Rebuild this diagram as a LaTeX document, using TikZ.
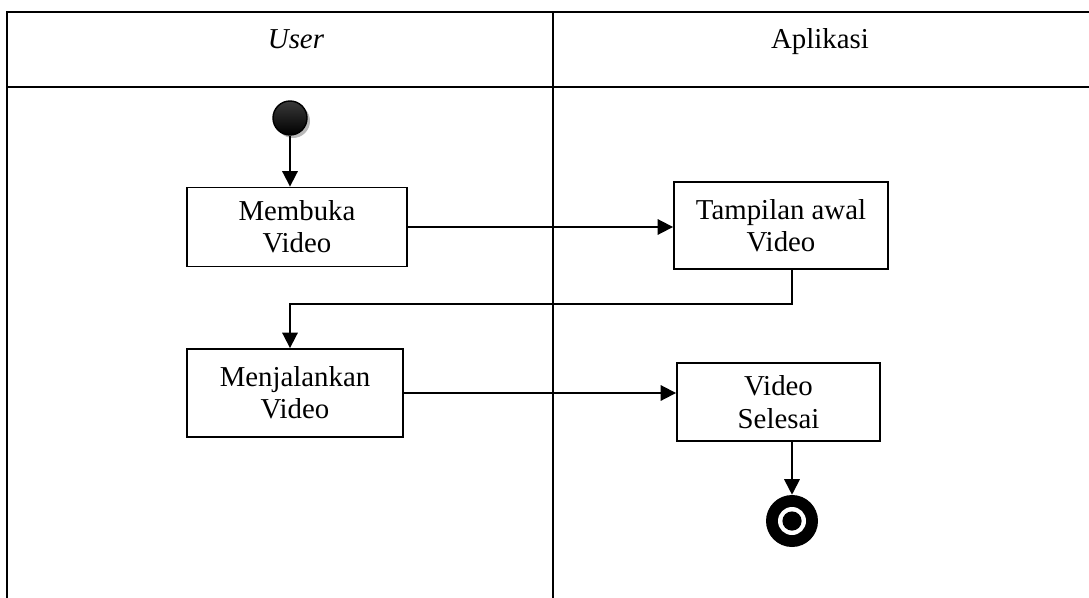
\documentclass[tikz,border=0pt]{standalone}
\usepackage{fontspec}
\setmainfont{Liberation Serif}
\usetikzlibrary{arrows.meta, positioning}

\begin{document}
\begin{tikzpicture}[
  x=0.025cm, y=-0.025cm,
  act/.style={rectangle, draw=black, line width=1.3pt, fill=white, align=center,
              font=\fontsize{20.5}{23}\selectfont, inner sep=0pt},
  title/.style={font=\fontsize{20.5}{23}\selectfont, anchor=base},
  lane/.style={line width=1.6pt, black},
  flow/.style={-{Triangle[length=11pt, width=11pt]}, line width=1.3pt},
  initial/.style={circle, draw=black, line width=1pt, minimum size=0.85cm, inner sep=0pt,
                  top color=gray!45!black, middle color=gray!75, bottom color=black},
  final/.style={circle, fill=black, minimum size=1.3cm, inner sep=0pt}
]
\useasboundingbox (0,0) rectangle (1089,597);
% swimlanes
\begin{scope}
\clip (0,0) rectangle (1089,597);
\draw[lane] (7,12) rectangle (1091,600);
\draw[lane] (7,87) -- (1091,87);
\draw[lane] (553,12) -- (553,600);
\end{scope}
\node[title] (user) at (296,49) {\textit{User}};
\node[title] (app) at (820,49) {Aplikasi};

% start / end
\fill[gray!55] (293,121) circle (0.425cm);
\node[initial] (start) at (290,118) {};
\node[final] (stop) at (792,521) {};
\fill[white] (stop) circle (0.35cm);
\fill[black] (stop) circle (0.24cm);

% activities
\node[act, minimum width=5.5cm, minimum height=1.975cm] (membuka) at (297,227) {Membuka\\Video};
\node[act, minimum width=5.35cm, minimum height=2.175cm] (tampilan) at (781,225.5) {Tampilan awal\\Video};
\node[act, minimum width=5.4cm, minimum height=2.2cm] (menjalankan) at (295,393) {Menjalankan\\Video};
\node[act, minimum width=5.075cm, minimum height=1.95cm] (selesai) at (778.5,402) {Video\\Selesai};

\coordinate (turn) at (290,304);

\draw[flow] (start) -- (start |- membuka.north);
\draw[flow] (membuka.east) -- (membuka.east -| tampilan.west);
\draw[flow] (tampilan.south -| stop) |- (turn) -- (turn |- menjalankan.north);
\draw[flow] (menjalankan.east) -- (menjalankan.east -| selesai.west);
\draw[flow] (selesai.south -| stop) -- (stop);
\end{tikzpicture}
\end{document}
